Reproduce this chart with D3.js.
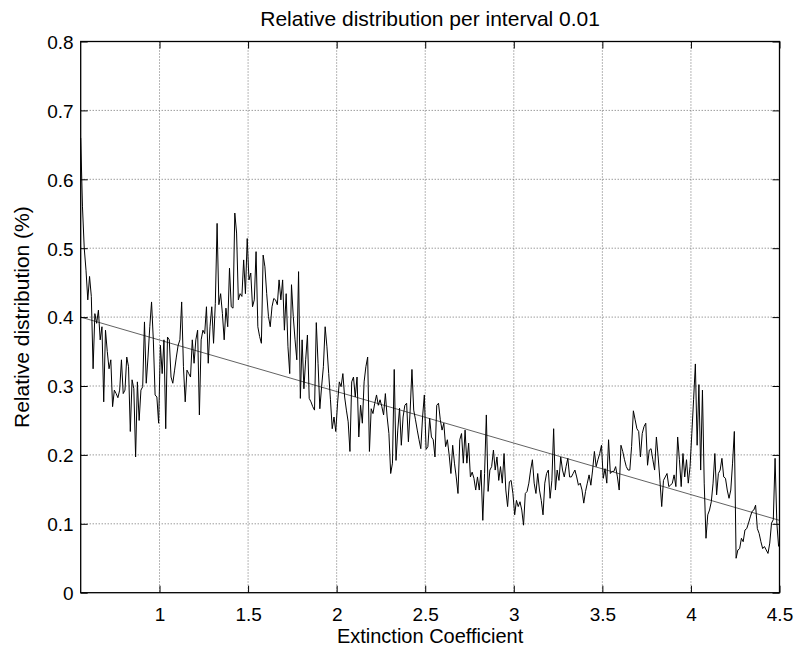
<!DOCTYPE html>
<html>
<head>
<meta charset="utf-8">
<script src="https://cdn.jsdelivr.net/npm/d3@7"></script>
<style>
  html, body { margin: 0; padding: 0; background: #fff; }
  svg { display: block; }
</style>
</head>
<body>
<svg id="chart"></svg>
<script>
// relative distribution per 0.01 interval in chunks
const distA = [0.66, 0.56, 0.50, 0.468, 0.425, 0.459, 0.430, 0.325, 0.405, 0.391, 0.410, 0.367, 0.386, 0.277, 0.381, 0.35, 0.325, 0.338, 0.270, 0.294, 0.289, 0.283, 0.294, 0.338, 0.289, 0.294, 0.342, 0.328, 0.234, 0.309, 0.296, 0.197, 0.306, 0.250, 0.294, 0.299, 0.393, 0.304, 0.342, 0.386, 0.422, 0.367, 0.287, 0.284, 0.246, 0.359, 0.318, 0.367, 0.238, 0.371, 0.367, 0.313, 0.304, 0.323, 0.342, 0.359];
const distB = [0.367, 0.422, 0.328, 0.277, 0.323, 0.318, 0.313, 0.367, 0.333, 0.367, 0.381, 0.258, 0.367, 0.381, 0.376, 0.415, 0.333, 0.386, 0.415, 0.362, 0.420, 0.536, 0.418, 0.434, 0.405, 0.367, 0.413, 0.386, 0.471, 0.415, 0.413, 0.551, 0.522, 0.425, 0.434, 0.430, 0.483, 0.434, 0.514, 0.454, 0.464, 0.415, 0.425, 0.495, 0.386, 0.372, 0.362, 0.490, 0.473, 0.434, 0.401, 0.386, 0.415, 0.427, 0.425, 0.418];
const distC = [0.454, 0.425, 0.454, 0.381, 0.434, 0.357, 0.318, 0.447, 0.401, 0.367, 0.338, 0.466, 0.282, 0.367, 0.296, 0.338, 0.374, 0.282, 0.277, 0.270, 0.265, 0.392, 0.333, 0.267, 0.299, 0.328, 0.386, 0.357, 0.318, 0.280, 0.238, 0.255, 0.234, 0.275, 0.306, 0.299, 0.318, 0.284, 0.265, 0.248, 0.205, 0.306, 0.313, 0.284, 0.313, 0.226, 0.272, 0.246, 0.306, 0.328, 0.342, 0.205, 0.267, 0.260, 0.275];
const distD = [0.287, 0.272, 0.280, 0.270, 0.258, 0.289, 0.255, 0.231, 0.173, 0.188, 0.324, 0.192, 0.236, 0.268, 0.214, 0.255, 0.272, 0.275, 0.219, 0.265, 0.324, 0.265, 0.251, 0.236, 0.222, 0.209, 0.255, 0.287, 0.208, 0.212, 0.253, 0.226, 0.222, 0.197, 0.272, 0.275, 0.251, 0.236, 0.246, 0.212, 0.222, 0.200, 0.173, 0.214, 0.188, 0.168, 0.144, 0.222, 0.231, 0.188, 0.236, 0.188, 0.217, 0.168, 0.175, 0.166];
const distE = [0.149, 0.168, 0.149, 0.178, 0.105, 0.173, 0.258, 0.147, 0.178, 0.183, 0.207, 0.178, 0.197, 0.163, 0.183, 0.159, 0.202, 0.149, 0.125, 0.161, 0.163, 0.144, 0.113, 0.134, 0.125, 0.132, 0.120, 0.098, 0.144, 0.147, 0.159, 0.178, 0.193, 0.159, 0.144, 0.173, 0.149, 0.134, 0.113, 0.159, 0.173, 0.178, 0.137, 0.163, 0.238, 0.149, 0.178, 0.163, 0.197, 0.178, 0.168, 0.183, 0.195, 0.168, 0.168];
const distF = [0.173, 0.178, 0.168, 0.156, 0.159, 0.149, 0.130, 0.147, 0.159, 0.171, 0.156, 0.178, 0.205, 0.183, 0.193, 0.202, 0.214, 0.166, 0.180, 0.159, 0.222, 0.173, 0.176, 0.176, 0.183, 0.168, 0.149, 0.214, 0.205, 0.193, 0.183, 0.178, 0.178, 0.212, 0.264, 0.251, 0.238, 0.234, 0.197, 0.231, 0.241, 0.246, 0.185, 0.207, 0.209, 0.193, 0.178, 0.226, 0.197, 0.163, 0.125, 0.163, 0.168, 0.173, 0.154];
const distG = [0.156, 0.159, 0.171, 0.154, 0.226, 0.193, 0.154, 0.202, 0.168, 0.193, 0.159, 0.183, 0.231, 0.280, 0.332, 0.214, 0.302, 0.178, 0.294, 0.159, 0.079, 0.113, 0.120, 0.132, 0.159, 0.202, 0.142, 0.173, 0.178, 0.195, 0.168, 0.166, 0.149, 0.137, 0.149, 0.188, 0.234, 0.050, 0.062, 0.064, 0.079, 0.074, 0.091, 0.093, 0.101, 0.110, 0.118, 0.120, 0.127, 0.093, 0.086, 0.074, 0.064, 0.067, 0.062, 0.057, 0.072, 0.101, 0.106, 0.195, 0.101, 0.067];

const xStart = 0.555;
const xStep = 0.01;
const xEnd = 4.5;

// linear fit, endpoints
const trendX = [0.555, 4.5];
const trendY = [0.400, 0.105];

const xTicks = [1, 1.5, 2, 2.5, 3, 3.5, 4, 4.5];
const yTicks = [0, 0.1, 0.2, 0.3, 0.4, 0.5, 0.6, 0.7, 0.8];

const titleText = "Relative distribution per interval 0.01";
const xLabel = "Extinction Coefficient";
const yLabel = "Relative distribution (%)";

const width = 795, height = 652;
const plot = { left: 80.7, right: 779.5, top: 41.5, bottom: 592.7 };
const FONT = "Liberation Sans, Arial, sans-serif";
const TICK = 7;

const values = distA.concat(distB, distC, distD, distE, distF, distG);
const data = values.map((v, i) => ({ x: xStart + i * xStep, y: v }));

const svg = d3.select("#chart").attr("width", width).attr("height", height)
  .attr("font-family", FONT);

const xScale = d3.scaleLinear().domain([xStart, xEnd]).range([plot.left, plot.right]);
const yScale = d3.scaleLinear().domain([0, 0.8]).range([plot.bottom, plot.top]);

// grid (dotted)
svg.append("g").selectAll("line").data(xTicks.filter(t => t < xEnd)).join("line")
  .attr("x1", d => xScale(d)).attr("x2", d => xScale(d))
  .attr("y1", plot.top).attr("y2", plot.bottom)
  .attr("stroke", "#6e6e6e").attr("stroke-width", 1).attr("stroke-dasharray", "1,2");
svg.append("g").selectAll("line").data(yTicks.filter(t => t > 0 && t < 0.8)).join("line")
  .attr("x1", plot.left).attr("x2", plot.right)
  .attr("y1", d => yScale(d)).attr("y2", d => yScale(d))
  .attr("stroke", "#6e6e6e").attr("stroke-width", 1).attr("stroke-dasharray", "1,2");

// trend line
svg.append("line")
  .attr("x1", xScale(trendX[0])).attr("y1", yScale(trendY[0]))
  .attr("x2", xScale(trendX[1])).attr("y2", yScale(trendY[1]))
  .attr("stroke", "#3a3a3a").attr("stroke-width", 0.8);

// data
const line = d3.line().x(d => xScale(d.x)).y(d => yScale(d.y));
svg.append("path").datum(data)
  .attr("d", line)
  .attr("fill", "none")
  .attr("stroke", "#000")
  .attr("stroke-width", 1);

// axes, ticks inside like matlab
const tickFmt = d3.format("");
const xAxis = svg.append("g").attr("transform", `translate(0,${plot.bottom})`)
  .call(d3.axisBottom(xScale).tickValues(xTicks).tickFormat(tickFmt).tickSizeInner(-TICK).tickSizeOuter(0).tickPadding(11));
const topAxis = svg.append("g").attr("transform", `translate(0,${plot.top})`)
  .call(d3.axisTop(xScale).tickValues(xTicks).tickSizeInner(-TICK).tickSizeOuter(0));
topAxis.selectAll("text").remove();

// left axis: group kept at x=0, tick marks and labels placed at the box edge
const yAxis = svg.append("g")
  .call(d3.axisLeft(yScale).tickValues(yTicks).tickFormat(tickFmt).tickSizeOuter(0));
yAxis.selectAll(".tick line").attr("x1", plot.left).attr("x2", plot.left + TICK);
yAxis.selectAll(".tick text").attr("x", plot.left - 7).attr("dy", "0.36em");
const rightAxis = svg.append("g")
  .call(d3.axisRight(yScale).tickValues(yTicks).tickSizeOuter(0));
rightAxis.selectAll("text").remove();
rightAxis.selectAll(".tick line").attr("x1", plot.right - TICK).attr("x2", plot.right);

[xAxis, yAxis].forEach(a => a.attr("font-size", 19).attr("font-family", FONT));
svg.selectAll(".domain").remove();
svg.selectAll(".tick line").attr("stroke", "#000");
svg.selectAll(".tick text").attr("fill", "#000");
xAxis.selectAll(".tick text").attr("dy", "0.9em");

// box
svg.append("rect")
  .attr("x", plot.left).attr("y", plot.top)
  .attr("width", plot.right - plot.left).attr("height", plot.bottom - plot.top)
  .attr("fill", "none").attr("stroke", "#000").attr("stroke-width", 1.3);

// texts
const midX = (plot.left + plot.right) / 2;
const midY = (plot.top + plot.bottom) / 2;
svg.append("text")
  .attr("x", midX).attr("y", 26)
  .attr("text-anchor", "middle")
  .attr("font-size", 21)
  .text(titleText);

svg.append("text")
  .attr("x", midX).attr("y", 643)
  .attr("text-anchor", "middle")
  .attr("font-size", 20)
  .text(xLabel);

const yl = svg.append("text")
  .attr("font-size", 21)
  .text(yLabel);
const ylLen = yl.node().getComputedTextLength();
const ylX = 29, ylY = midY + ylLen / 2;
yl.attr("x", ylX).attr("y", ylY)
  .attr("transform", `rotate(-90 ${ylX} ${ylY})`);
</script>
</body>
</html>
